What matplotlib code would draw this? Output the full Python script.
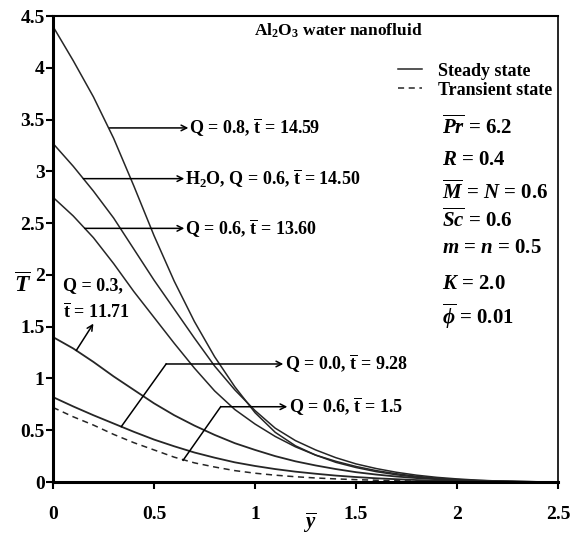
import numpy as np
import matplotlib
matplotlib.use('Agg')
from matplotlib import pyplot as plt

plt.rcParams['font.family'] = ['Liberation Serif', 'DejaVu Serif']
plt.rcParams['font.weight'] = 'bold'
plt.rcParams['mathtext.fontset'] = 'custom'
plt.rcParams['mathtext.rm'] = 'Liberation Serif:bold'
plt.rcParams['mathtext.it'] = 'Liberation Serif:italic:bold'
plt.rcParams['mathtext.bf'] = 'Liberation Serif:bold'

# data
y_bar = np.round(np.arange(0, 2.51, 0.1), 1)
T_q08 = [4.40, 4.07, 3.72, 3.32, 2.86, 2.38, 1.94, 1.55, 1.21, 0.92, 0.67, 0.48, 0.35,
         0.26, 0.19, 0.14, 0.10, 0.07, 0.047, 0.030, 0.019, 0.011, 0.006, 0.003, 0.001, 0.0]
T_h2o = [3.27, 3.05, 2.81, 2.55, 2.25, 1.95, 1.67, 1.39, 1.12, 0.89, 0.69, 0.52, 0.40,
         0.31, 0.235, 0.175, 0.13, 0.094, 0.066, 0.045, 0.03, 0.018, 0.01, 0.005, 0.002, 0.0]
T_q06 = [2.75, 2.57, 2.36, 2.11, 1.84, 1.59, 1.34, 1.10, 0.88, 0.70, 0.56, 0.44, 0.34,
         0.26, 0.20, 0.15, 0.11, 0.08, 0.055, 0.037, 0.024, 0.015, 0.009, 0.005, 0.002, 0.0]
T_q03 = [1.40, 1.29, 1.16, 1.02, 0.89, 0.76, 0.645, 0.545, 0.455, 0.375, 0.31, 0.25, 0.20,
         0.16, 0.125, 0.095, 0.072, 0.053, 0.038, 0.027, 0.018, 0.011, 0.006, 0.003, 0.001, 0.0]
T_q00 = [0.82, 0.73, 0.645, 0.565, 0.485, 0.41, 0.345, 0.285, 0.235, 0.19, 0.155, 0.125, 0.10,
         0.08, 0.062, 0.048, 0.036, 0.027, 0.019, 0.013, 0.009, 0.005, 0.003, 0.002, 0.001, 0.0]
T_trans = [0.72, 0.63, 0.55, 0.46, 0.38, 0.31, 0.24, 0.185, 0.145, 0.11, 0.085, 0.066, 0.051,
           0.039, 0.03, 0.023, 0.017, 0.012, 0.009, 0.006, 0.004, 0.003, 0.002, 0.001, 0.0005, 0.0]

xticks = [0, 0.5, 1, 1.5, 2, 2.5]
yticks = [0, 0.5, 1, 1.5, 2, 2.5, 3, 3.5, 4, 4.5]
params = [r'$\overline{Pr}$ = 6.2', r'$R$ = 0.4', r'$\overline{M}$ = $N$ = 0.6', r'$\overline{Sc}$ = 0.6',
          r'$m$ = $n$ = 0.5', r'$K$ = 2.0', r'$\overline{\phi}$ = 0.01']
param_y = [3.43, 3.11, 2.80, 2.53, 2.26, 1.91, 1.60]

fig = plt.figure(figsize=(5.7, 5.37), dpi=100)
ax = fig.add_axes([0.093, 0.1024, 0.886, 0.8676])

c = '#262626'
steady, = ax.plot(y_bar, T_q08, color=c, lw=1.1)
ax.plot(y_bar, T_h2o, color=c, lw=1.1)
ax.plot(y_bar, T_q06, color=c, lw=1.1)
ax.plot(y_bar, T_q03, color=c, lw=1.3)
ax.plot(y_bar, T_q00, color=c, lw=1.3)
trans, = ax.plot(y_bar, T_trans, color=c, lw=1.1, linestyle=(0, (4, 3)))

ax.set_xlim(0, 2.5)
ax.set_ylim(0, 4.5)
ax.set_xticks(xticks)
ax.set_yticks(yticks)
ax.set_xticklabels(['%g' % v for v in xticks])
ax.set_yticklabels(['%g' % v for v in yticks])
ax.tick_params(axis='x', direction='out', length=5, width=1.5, pad=12, labelsize=14)
ax.tick_params(axis='y', direction='out', length=5, width=1.5, pad=1, labelsize=14)
ax.spines['left'].set_linewidth(2.2)
ax.spines['bottom'].set_linewidth(2.2)
ax.spines['top'].set_linewidth(1.5)
ax.spines['right'].set_linewidth(1.2)

fs = 13
arr = dict(arrowstyle='->', lw=1.1, color='black', shrinkA=0, shrinkB=0)
ax.annotate('', xy=(0.67, 3.42), xytext=(0.28, 3.42), arrowprops=arr)
ax.text(0.675, 3.42, r'Q = 0.8, $\overline{\mathbf{t}}$ = 14.59', fontsize=fs, va='center')
ax.annotate('', xy=(0.65, 2.93), xytext=(0.15, 2.93), arrowprops=arr)
ax.text(0.655, 2.93, r'H$_\mathbf{2}$O, Q = 0.6, $\overline{\mathbf{t}}$ = 14.50', fontsize=fs, va='center')
ax.annotate('', xy=(0.65, 2.45), xytext=(0.157, 2.45), arrowprops=arr)
ax.text(0.655, 2.45, r'Q = 0.6, $\overline{\mathbf{t}}$ = 13.60', fontsize=fs, va='center')

ax.text(0.05, 1.90, 'Q = 0.3,', fontsize=fs, va='center')
ax.text(0.05, 1.64, r'$\overline{\mathbf{t}}$ = 11.71', fontsize=fs, va='center')
ax.annotate('', xy=(0.2, 1.53), xytext=(0.115, 1.27), arrowprops=arr)

ax.plot([0.338, 0.56], [0.535, 1.14], color='black', lw=1.1)
ax.annotate('', xy=(1.14, 1.14), xytext=(0.56, 1.14), arrowprops=arr)
ax.text(1.15, 1.14, r'Q = 0.0, $\overline{\mathbf{t}}$ = 9.28', fontsize=fs, va='center')
ax.plot([0.644, 0.83], [0.21, 0.727], color='black', lw=1.1)
ax.annotate('', xy=(1.16, 0.727), xytext=(0.83, 0.727), arrowprops=arr)
ax.text(1.17, 0.727, r'Q = 0.6, $\overline{\mathbf{t}}$ = 1.5', fontsize=fs, va='center')

ax.text(1.41, 4.36, r'Al$_\mathbf{2}$O$_\mathbf{3}$ water nanofluid', fontsize=12.5, ha='center', va='center')

ax.legend([steady, trans], ['Steady state', 'Transient state'], loc='upper left',
          bbox_to_anchor=(0.683, 0.90), frameon=False, fontsize=13, handlelength=1.35,
          handletextpad=0.85, labelspacing=0.1, borderpad=0, borderaxespad=0)

for p, yy in zip(params, param_y):
    ax.text(1.925, yy, p, fontsize=15, va='center')

ax.text(-0.153, 1.90, r'$\overline{T}$', fontsize=17, ha='center', va='center', clip_on=False)
ax.text(1.27, -0.51, r'$\overline{y}$', fontsize=15, ha='center', va='bottom', clip_on=False)

fig.savefig('out.png', dpi=100)
